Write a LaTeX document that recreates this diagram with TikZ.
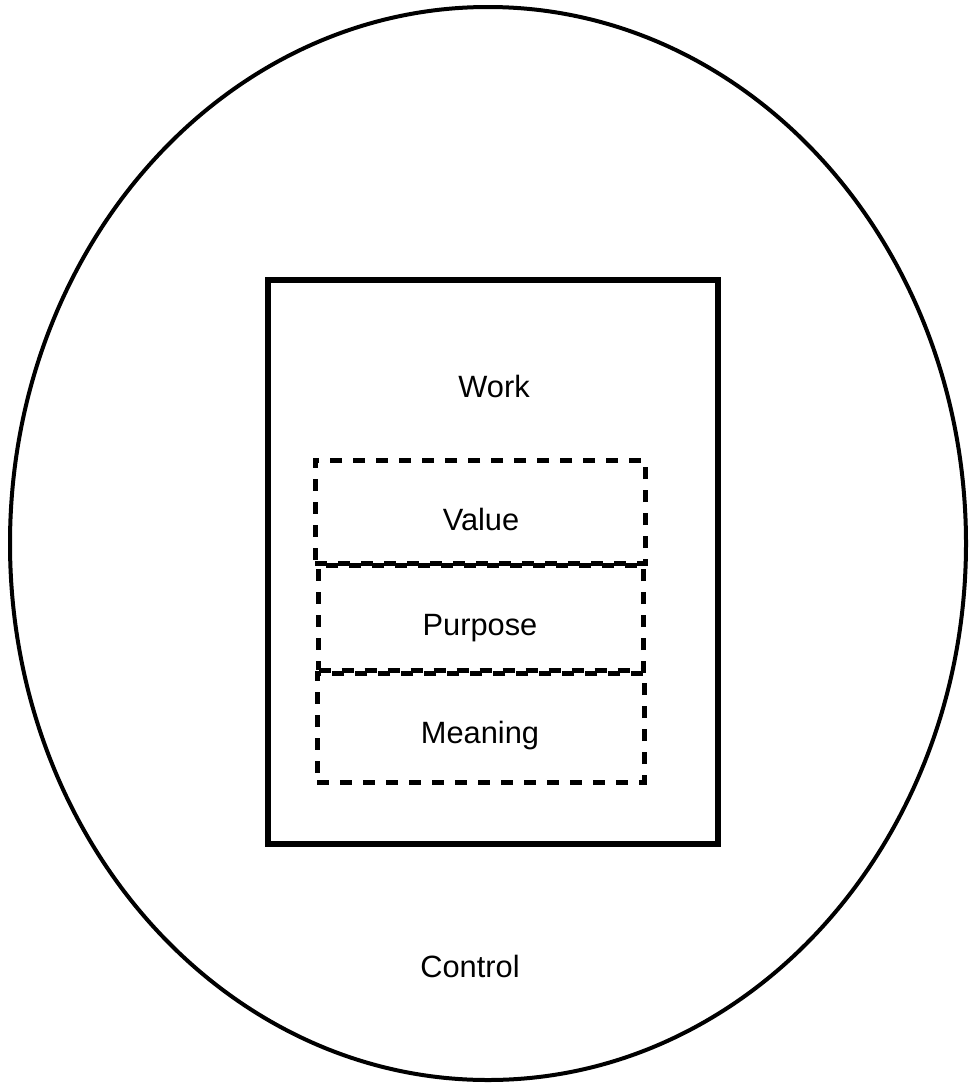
\documentclass[tikz,border=0pt]{standalone}
\usepackage{fontspec}
\setmainfont{Liberation Sans}
\usetikzlibrary{shapes.geometric}
\begin{document}
\begin{tikzpicture}[x=1pt,y=-1pt,
  outer/.style={draw,line width=4pt},
  frame/.style={draw,line width=5.5pt,inner sep=0pt},
  layer/.style={draw,line width=5pt,dash pattern=on 12pt off 11pt,inner sep=0pt},
  word/.style={anchor=base,inner sep=0pt,font=\fontsize{30.8}{36}\selectfont}]
  \useasboundingbox (0,0) rectangle (969,1084);
  % outer ellipse
  \draw[outer] (488,543.5) ellipse [x radius=478, y radius=536.5];
  % work frame
  \node[frame,minimum width=450pt,minimum height=564pt] (work) at (493,562) {};
  % stacked dashed layers
  \node[layer,minimum width=330pt,minimum height=103pt] (value) at (480,511.5) {};
  \node[layer,minimum width=325pt,minimum height=105pt] (purpose) at (481,617.5) {};
  \node[layer,minimum width=327pt,minimum height=109pt] (meaning) at (480.5,727.5) {};
  % labels
  \node[word] (tWork) at (494,397) {Work};
  \node[word] (tValue) at (481,530) {Value};
  \node[word] (tPurpose) at (480,635) {Purpose};
  \node[word] (tMeaning) at (480,743) {Meaning};
  \node[word] (tControl) at (470,977) {Control};
\end{tikzpicture}
\end{document}
